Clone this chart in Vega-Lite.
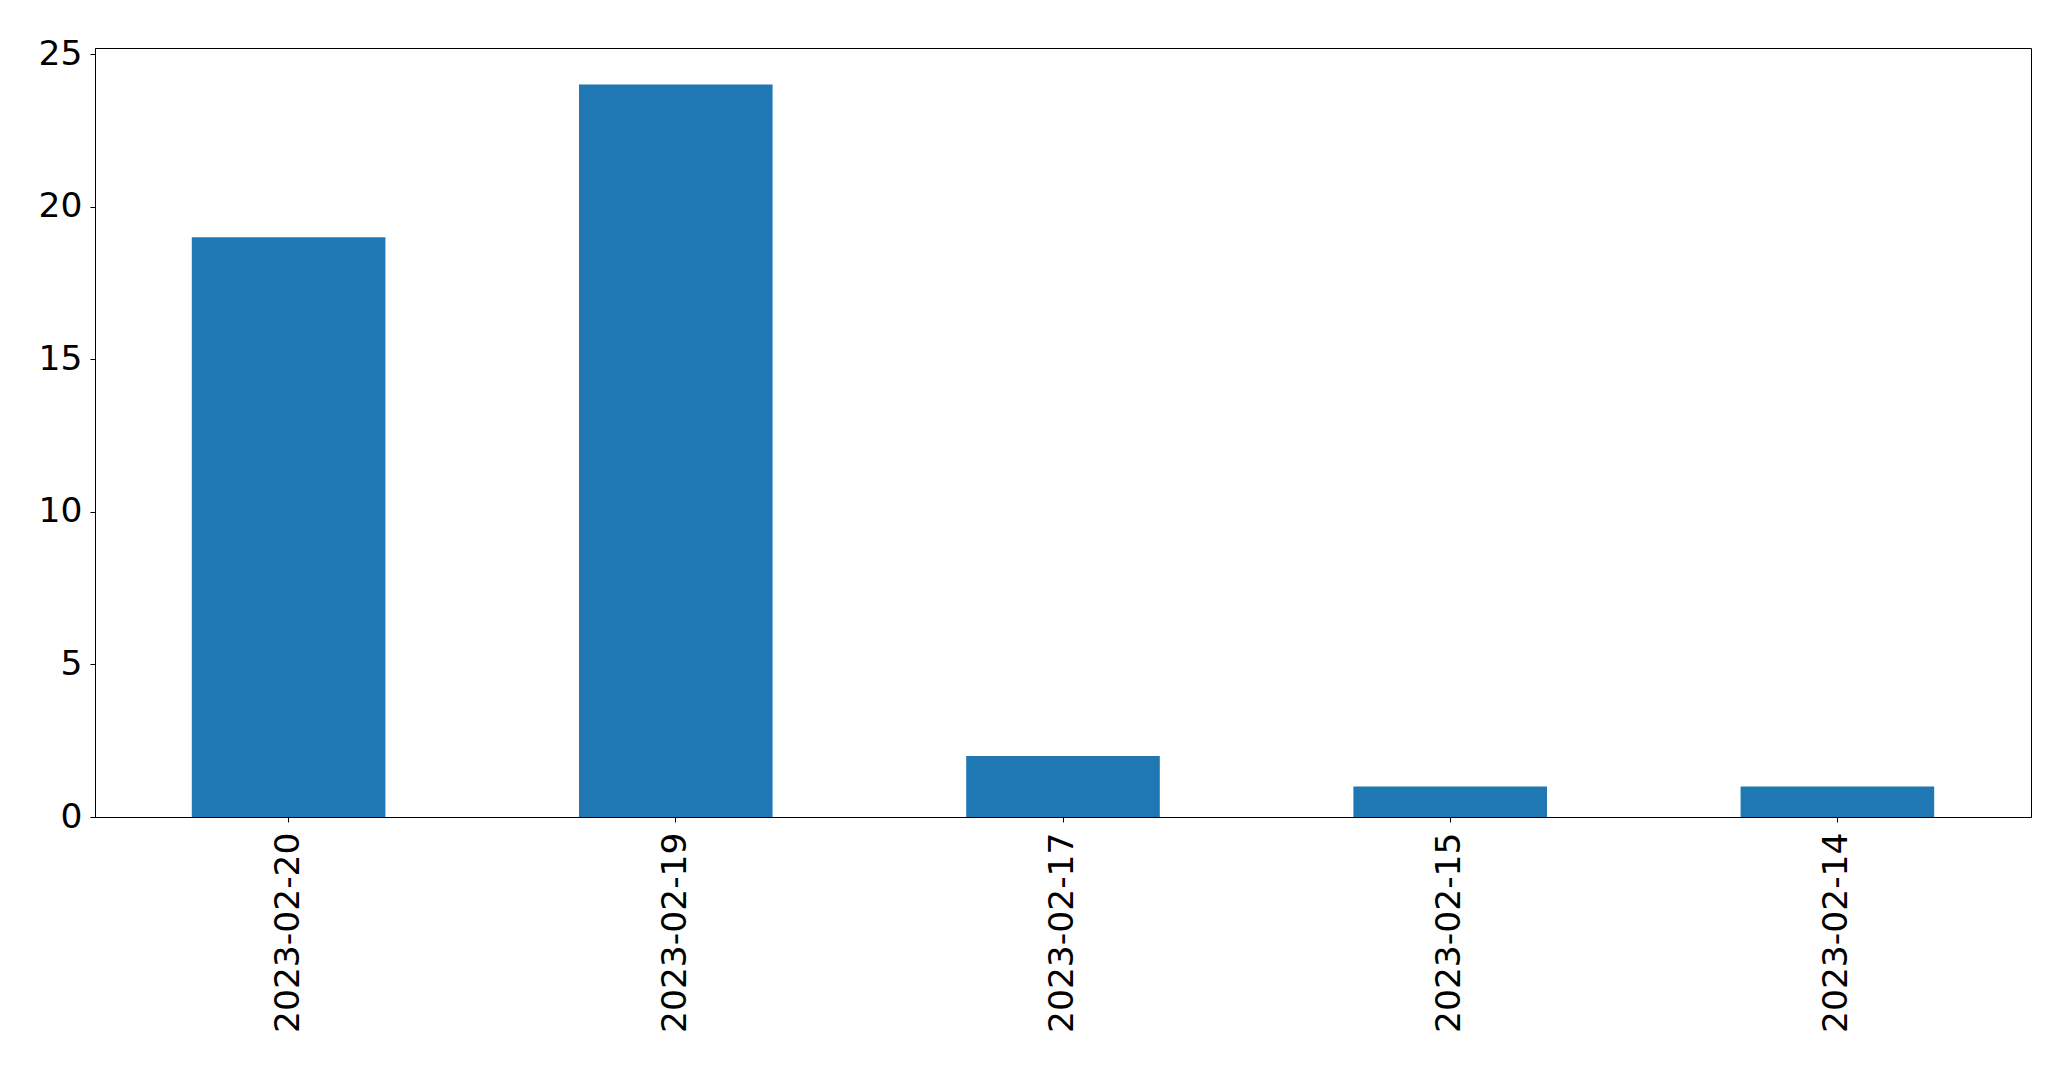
{
  "$schema": "https://vega.github.io/schema/vega-lite/v6.json",
  "width": 1936,
  "height": 769,
  "autosize": {"type": "none"},
  "padding": {"left": 95, "top": 48, "right": 40, "bottom": 252},
  "background": "white",
  "data": {
    "values": [
      {"date": "2023-02-20", "count": 19},
      {"date": "2023-02-19", "count": 24},
      {"date": "2023-02-17", "count": 2},
      {"date": "2023-02-15", "count": 1},
      {"date": "2023-02-14", "count": 1}
    ]
  },
  "mark": {"type": "bar", "color": "#1f77b4"},
  "encoding": {
    "x": {
      "field": "date",
      "type": "nominal",
      "sort": null,
      "title": null,
      "scale": {"paddingInner": 0.5, "paddingOuter": 0.25},
      "axis": {
        "labelAngle": -90,
        "labelFont": "DejaVu Sans",
        "labelFontSize": 34.5,
        "labelColor": "black",
        "labelPadding": 10,
        "labelLimit": 0,
        "tickColor": "black",
        "tickSize": 5,
        "domainColor": "black",
        "grid": false
      }
    },
    "y": {
      "field": "count",
      "type": "quantitative",
      "title": null,
      "scale": {"domain": [0, 25.2], "nice": false},
      "axis": {
        "values": [0, 5, 10, 15, 20, 25],
        "labelFont": "DejaVu Sans",
        "labelFontSize": 34.5,
        "labelColor": "black",
        "labelPadding": 8,
        "labelLimit": 0,
        "tickColor": "black",
        "tickSize": 5,
        "domainColor": "black",
        "grid": false
      }
    }
  },
  "config": {
    "view": {"stroke": "black", "strokeWidth": 1}
  }
}
